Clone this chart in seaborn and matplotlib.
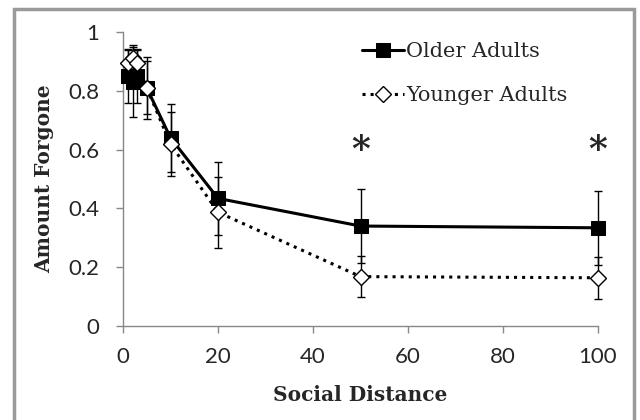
import numpy as np
import pandas as pd
import matplotlib
matplotlib.use('Agg')
import matplotlib.pyplot as plt
import seaborn as sns
from matplotlib.patches import Rectangle

distance = [1, 2, 3, 5, 10, 20, 50, 100]
older = [0.85, 0.83, 0.85, 0.81, 0.64, 0.434, 0.34, 0.334]
older_err = [0.09, 0.12, 0.09, 0.105, 0.115, 0.123, 0.127, 0.125]
younger = [0.893, 0.91, 0.893, 0.81, 0.619, 0.387, 0.168, 0.164]
younger_err = [0.05, 0.045, 0.05, 0.09, 0.11, 0.12, 0.07, 0.072]
star_x = [50, 100]
star_y = [0.6, 0.6]

sns.set_theme(style='white')
plt.rcParams['font.family'] = ['Lato', 'DejaVu Sans']

fig = plt.figure(figsize=(6.4, 4.2), dpi=100)
fig.patches.append(Rectangle((14 / 640, -0.05), 620 / 640, 1.05 - 9 / 420,
                             transform=fig.transFigure, fill=False,
                             edgecolor='#9a9a9a', linewidth=2.5))
ax = fig.add_axes([123 / 640, 94 / 420, 475 / 640, 294 / 420])

df_old = pd.DataFrame({'Social Distance': distance, 'Amount Forgone': older})
df_young = pd.DataFrame({'Social Distance': distance, 'Amount Forgone': younger})

ax.errorbar(distance, older, yerr=older_err, fmt='none', ecolor='black',
            elinewidth=1, capsize=3, capthick=1, zorder=2, clip_on=False)
ax.errorbar(distance, younger, yerr=younger_err, fmt='none', ecolor='black',
            elinewidth=1, capsize=3, capthick=1, zorder=2, clip_on=False)

sns.lineplot(data=df_old, x='Social Distance', y='Amount Forgone', ax=ax,
             color='black', linewidth=2.2, marker='s', markersize=10,
             markerfacecolor='black', markeredgecolor='black',
             label='Older Adults', zorder=3, clip_on=False)
sns.lineplot(data=df_young, x='Social Distance', y='Amount Forgone', ax=ax,
             color='black', linewidth=2.2, linestyle=':', marker='D', markersize=8,
             markerfacecolor='white', markeredgecolor='black', markeredgewidth=1,
             label='Younger Adults', zorder=4, clip_on=False)

for sx, sy in zip(star_x, star_y):
    ax.text(sx, sy, '*', ha='center', va='center', fontsize=26,
            fontweight='bold', family='DejaVu Serif')

ax.set_xlim(0, 100)
ax.set_ylim(0, 1)
ax.set_xticks([0, 20, 40, 60, 80, 100])
ax.set_yticks([0, 0.2, 0.4, 0.6, 0.8, 1])
ax.set_yticklabels(['0', '0.2', '0.4', '0.6', '0.8', '1'])
ax.tick_params(axis='both', labelsize=16, length=5, width=1, color='#888888',
               direction='out', bottom=True, left=True)
ax.tick_params(axis='x', pad=10)
ax.tick_params(axis='y', pad=12)
for side in ['top', 'right']:
    ax.spines[side].set_visible(False)
for side in ['left', 'bottom']:
    ax.spines[side].set_color('#888888')
    ax.spines[side].set_linewidth(1)

ax.set_xlabel('Social Distance', fontsize=14.5, fontweight='bold',
              family='DejaVu Serif', labelpad=13)
ax.set_ylabel('Amount Forgone', fontsize=14.5, fontweight='bold',
              family='DejaVu Serif', labelpad=10)

leg = ax.legend(loc='upper right', bbox_to_anchor=(0.975, 1.03), frameon=False,
                prop={'family': 'DejaVu Serif', 'size': 15},
                handlelength=2.0, handletextpad=0.1, labelspacing=1.2)

plt.savefig('out.png', dpi=100)
